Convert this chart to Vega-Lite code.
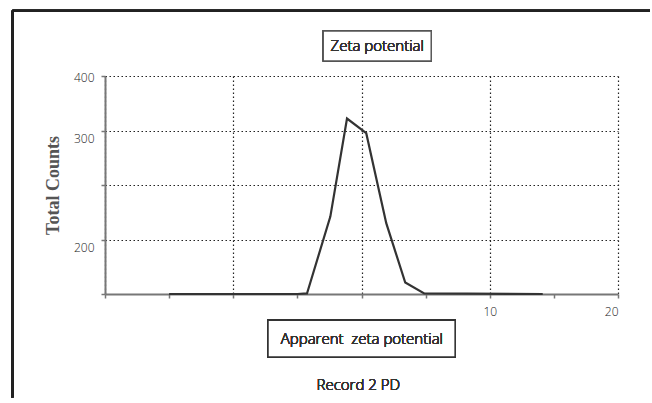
{
  "$schema": "https://vega.github.io/schema/vega-lite/v6.json",
  "usermeta": {"embedOptions": {"actions": false}},
  "width": 513,
  "height": 218,
  "autosize": {"type": "none"},
  "padding": {"left": 105, "top": 76, "right": 32, "bottom": 104},
  "background": "white",
  "config": {"view": {"stroke": null}, "font": "Open Sans"},
  "data": {
    "values": [
      {"potential": -15, "counts": 0},
      {"potential": -5, "counts": 0},
      {"potential": -4.25, "counts": 1},
      {"potential": -2.43, "counts": 142},
      {"potential": -1.13, "counts": 322},
      {"potential": 0.37, "counts": 295},
      {"potential": 1.93, "counts": 130},
      {"potential": 3.41, "counts": 21},
      {"potential": 4.89, "counts": 1},
      {"potential": 14.13, "counts": 0}
    ]
  },
  "layer": [
    {
      "mark": {"type": "line", "color": "#333333", "strokeWidth": 2.2},
      "encoding": {
        "x": {
          "field": "potential", "type": "quantitative",
          "scale": {"domain": [-20, 20], "nice": false, "zero": false},
          "axis": {
            "title": null,
            "values": [-20, -15, -10, -5, 0, 5, 10, 15, 20],
            "labelExpr": "datum.value == 10 ? '10' : datum.value == 20 ? '20' : ''",
            "labelFont": "Open Sans", "labelFontWeight": 300,
            "labelFontSize": 12, "labelColor": "#222222", "labelPadding": 8,
            "tickSize": 4, "tickColor": "#777777", "tickWidth": 1.5,
            "domainColor": "#777777", "domainWidth": 2,
            "grid": true, "gridColor": "#222222", "gridDash": [1.5, 2.5], "gridWidth": 1.2,
            "gridOpacity": {"condition": {"test": "datum.value % 10 === 0", "value": 1}, "value": 0}
          }
        },
        "y": {
          "field": "counts", "type": "quantitative",
          "scale": {"domain": [0, 400], "nice": false},
          "axis": {
            "title": "Total Counts",
            "titleFont": "Liberation Serif", "titleFontSize": 18, "titleFontWeight": "bold",
            "titleColor": "#555555", "titlePadding": 11,
            "values": [0, 50, 100, 150, 200, 250, 300, 350, 400],
            "labelExpr": "datum.value == 400 ? '400' : datum.value == 300 ? '300' : datum.value == 100 ? '200' : ''",
            "labelFont": "Open Sans", "labelFontWeight": 300,
            "labelFontSize": 12, "labelColor": "#222222", "labelPadding": 7,
            "labelOffset": {"condition": {"test": "datum.value == 400", "value": 1}, "value": 8},
            "tickSize": 4, "tickColor": "#777777", "tickWidth": 1.5,
            "domainColor": "#777777", "domainWidth": 2,
            "grid": true, "gridColor": "#222222", "gridDash": [1.5, 2.5], "gridWidth": 1.2,
            "gridOpacity": {"condition": {"test": "datum.value % 100 === 0 && datum.value > 0", "value": 1}, "value": 0}
          }
        }
      }
    },
    {
      "mark": {"type": "rule", "stroke": "#222222", "strokeWidth": 2, "clip": false},
      "encoding": {
        "x": {"datum": -27.22, "type": "quantitative"},
        "x2": {"datum": 22.5},
        "y": {"datum": 519.9, "type": "quantitative"}
      }
    },
    {
      "mark": {"type": "rule", "stroke": "#222222", "strokeWidth": 2, "clip": false},
      "encoding": {
        "x": {"datum": -27.22, "type": "quantitative"},
        "y": {"datum": 519.9, "type": "quantitative"},
        "y2": {"datum": -190}
      }
    },
    {
      "mark": {"type": "rect", "fill": "white", "stroke": "#555555", "strokeWidth": 1.3, "clip": false},
      "encoding": {
        "x": {"datum": -2.98, "type": "quantitative"},
        "x2": {"datum": 5.43},
        "y": {"datum": 482.6, "type": "quantitative"},
        "y2": {"datum": 427.6}
      }
    },
    {
      "mark": {"type": "text", "text": "Zeta potential", "font": "Open Sans", "fontWeight": 300, "fontSize": 15, "color": "#333333", "align": "center", "baseline": "middle", "clip": false},
      "encoding": {
        "x": {"datum": 1.23, "type": "quantitative"},
        "y": {"datum": 455, "type": "quantitative"}
      }
    },
    {
      "mark": {"type": "rect", "fill": "white", "stroke": "#333333", "strokeWidth": 1.5, "clip": false},
      "encoding": {
        "x": {"datum": -7.29, "type": "quantitative"},
        "x2": {"datum": 7.3},
        "y": {"datum": -48.3, "type": "quantitative"},
        "y2": {"datum": -115.6}
      }
    },
    {
      "mark": {"type": "text", "text": "Apparent\u00a0 zeta potential", "font": "Open Sans", "fontWeight": 300, "fontSize": 15, "color": "#333333", "align": "center", "baseline": "middle", "clip": false},
      "encoding": {
        "x": {"datum": 0.03, "type": "quantitative"},
        "y": {"datum": -82.6, "type": "quantitative"}
      }
    },
    {
      "mark": {"type": "text", "text": "Record 2 PD", "font": "Open Sans", "fontWeight": 300, "fontSize": 15, "color": "#333333", "align": "center", "baseline": "middle", "clip": false},
      "encoding": {
        "x": {"datum": -0.25, "type": "quantitative"},
        "y": {"datum": -167, "type": "quantitative"}
      }
    }
  ]
}
